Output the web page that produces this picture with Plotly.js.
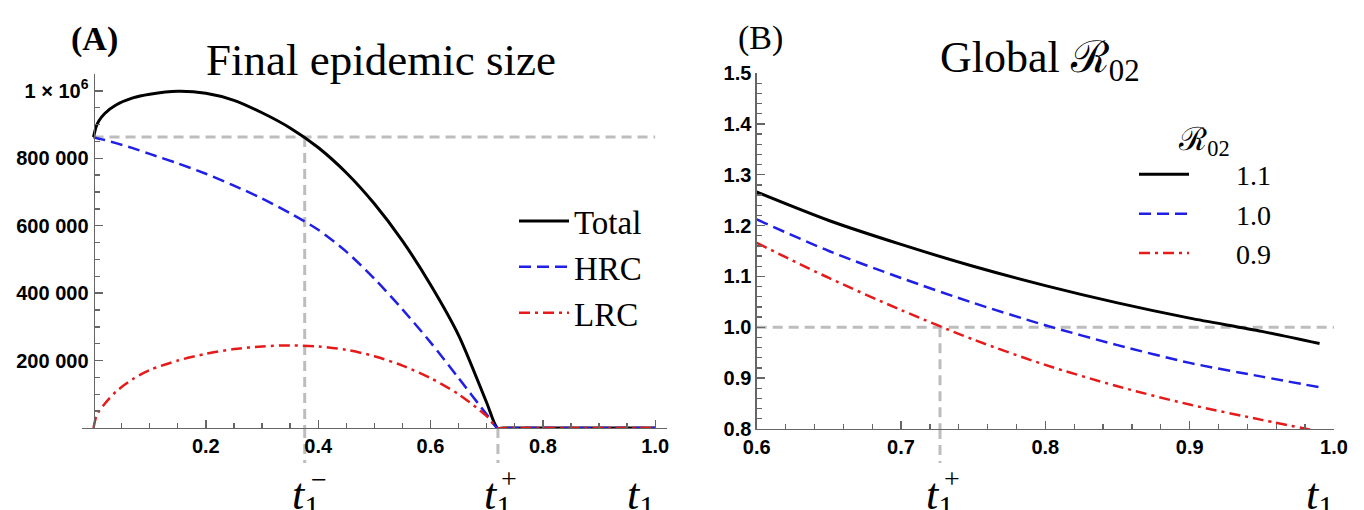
<!DOCTYPE html>
<html><head><meta charset="utf-8">
<script src="https://cdn.plot.ly/plotly-3.0.1.min.js"></script>
<style>html,body{margin:0;padding:0;background:#fff}#c{width:1364px;height:510px}</style>
</head><body><div id="c"></div>
<script>
// ---------- Panel A data: final epidemic size vs t1 ----------
const tA = [0, 0.005, 0.01, 0.02, 0.04, 0.07, 0.10, 0.15, 0.20, 0.25, 0.30, 0.35, 0.40, 0.45, 0.50, 0.55, 0.60, 0.65, 0.70, 0.719, 0.73, 0.8, 0.9, 1.0];
const totalA = [863000, 895000, 912000, 933000, 958000, 979000, 990000, 999000, 993000, 972000, 935000, 890000, 832000, 757000, 665000, 555000, 425000, 275000, 75000, 0, 0, 0, 0, 0];
const hrcA = [863000, 860000, 858000, 854000, 845000, 830000, 813000, 785000, 754000, 719000, 681000, 637000, 588000, 523000, 443000, 352000, 254000, 148000, 40000, 0, 0, 0, 0, 0];
const lrcA = [0, 35000, 50000, 72000, 108000, 145000, 172000, 200000, 220000, 234000, 242000, 245000, 242000, 232000, 213000, 185000, 148000, 100000, 35000, 0, 0, 0, 0, 0];
const seriesA = ["Total", "HRC", "LRC"];
const finalThresh = 863000;
const t1Minus = 0.376;
const t1PlusA = 0.72;
const yTickValsA = [200000, 400000, 600000, 800000, 1000000];
const yTickTextA = ["200 000", "400 000", "600 000", "800 000", "1 × 10<sup>6</sup>"];
const xTickValsA = [0.2, 0.4, 0.6, 0.8, 1.0];
const xTickTextA = ["0.2", "0.4", "0.6", "0.8", "1.0"];

// ---------- Panel B data: global R02 vs t1 ----------
const tB = [0.6, 0.65, 0.7, 0.75, 0.8, 0.85, 0.9, 0.95, 0.99];
const r11 = [1.266, 1.21, 1.163, 1.12, 1.082, 1.048, 1.018, 0.992, 0.968];
const r10 = [1.212, 1.15, 1.097, 1.048, 1.004, 0.965, 0.93, 0.903, 0.882];
const r09 = [1.166, 1.097, 1.034, 0.976, 0.926, 0.884, 0.848, 0.818, 0.795];
const seriesB = ["1.1", "1.0", "0.9"];
const rThresh = 1.0;
const t1PlusB = 0.727;
const xTickValsB = [0.6, 0.7, 0.8, 0.9, 1.0];
const xTickTextB = ["0.6", "0.7", "0.8", "0.9", "1.0"];
const yTickValsB = [0.8, 0.9, 1.0, 1.1, 1.2, 1.3, 1.4, 1.5];
const yTickTextB = ["0.8", "0.9", "1.0", "1.1", "1.2", "1.3", "1.4", "1.5"];

const W = 1364, H = 510;
const px = v => v / W, py = v => 1 - v / H;
const SERIF = "'Liberation Serif', 'DejaVu Serif', serif";
const SANS = "'Liberation Sans', Arial, sans-serif";
const AX = "#666";
const bold = arr => arr.map(s => "<b>" + s + "</b>");

const colors = ["#000000", "#1f1fe6", "#e61a1a"];
const dashes = ["solid", "12px,6px", "11px,5px,3px,5px"];
const widths = [3, 2.5, 2.5];

const traces = [];
[totalA, hrcA, lrcA].forEach((y, i) => traces.push({
  x: tA, y: y, xaxis: "x", yaxis: "y", type: "scatter", mode: "lines", name: seriesA[i],
  line: {color: colors[i], width: widths[i], dash: dashes[i], shape: "spline", smoothing: 0.8}, legend: "legend"
}));
[r11, r10, r09].forEach((y, i) => traces.push({
  x: tB, y: y, xaxis: "x2", yaxis: "y2", type: "scatter", mode: "lines", name: "\u2003\u2002" + seriesB[i],
  line: {color: colors[i], width: widths[i], dash: dashes[i], shape: "spline", smoothing: 0.8}, legend: "legend2"
}));

const domA = {x: [px(82), px(667)], y: [py(428), py(74)]};
const domB = {x: [px(756.7), px(1334)], y: [py(429), py(73)]};
const gray = {color: "#bdbdbd", width: 3, dash: "10px,6px"};

const shapes = [
  {type: "line", xref: "x", yref: "y", x0: 0, x1: 1.0, y0: finalThresh, y1: finalThresh, line: gray, layer: "below"},
  {type: "line", xref: "x", yref: "y", x0: t1Minus, x1: t1Minus, y0: finalThresh, y1: 0, line: gray, layer: "below"},
  {type: "line", xref: "x", yref: "paper", x0: t1Minus, x1: t1Minus, y0: domA.y[0], y1: py(463), line: gray, layer: "below"},
  {type: "line", xref: "x", yref: "paper", x0: t1PlusA, x1: t1PlusA, y0: domA.y[0], y1: py(463), line: gray, layer: "below"},
  {type: "line", xref: "x2", yref: "y2", x0: 0.6, x1: 1.0, y0: rThresh, y1: rThresh, line: gray, layer: "below"},
  {type: "line", xref: "x2", yref: "y2", x0: t1PlusB, x1: t1PlusB, y0: rThresh, y1: 0.8, line: gray, layer: "below"},
  {type: "line", xref: "x2", yref: "paper", x0: t1PlusB, x1: t1PlusB, y0: domB.y[0], y1: py(463), line: gray, layer: "below"}
];

function ann(text, x, y, size, opts) {
  return Object.assign({text: text, xref: "paper", yref: "paper", x: px(x), y: py(y), showarrow: false,
    xanchor: "center", yanchor: "middle", font: {family: SERIF, size: size, color: "#000"}}, opts || {});
}
const annotations = [
  ann("<b>(A)</b>", 95, 39, 34),
  ann("(B)", 761, 38, 34),
  ann("Final epidemic size", 381, 60, 45),
  ann("Global ℛ<sub>02</sub>", 1040, 60, 44),
  // t1 labels panel A
  ann("<i>t</i><sub>1</sub>", 290, 497, 44, {xanchor: "left"}),
  ann("−", 319, 479, 28),
  ann("<i>t</i><sub>1</sub>", 482, 497, 44, {xanchor: "left"}),
  ann("+", 509, 478, 28),
  ann("<i>t</i><sub>1</sub>", 625, 497, 44, {xanchor: "left"}),
  // panel B
  ann("<i>t</i><sub>1</sub>", 924, 497, 44, {xanchor: "left"}),
  ann("+", 952, 478, 28),
  ann("<i>t</i><sub>1</sub>", 1304, 497, 44, {xanchor: "left"})
];

const tickFont = {family: SANS, size: 20, color: "#000"};
const common = {showgrid: false, zeroline: false, showline: true, linecolor: AX, linewidth: 1.3,
  ticks: "inside", ticklen: 8, tickcolor: AX, tickwidth: 1.3, tickfont: tickFont, tickmode: "array"};
const layout = {
  width: W, height: H, margin: {l: 0, r: 0, t: 0, b: 0},
  paper_bgcolor: "#fff", plot_bgcolor: "rgba(0,0,0,0)",
  showlegend: true,
  xaxis: Object.assign({}, common, {domain: domA.x, range: [-0.0205, 1.021], anchor: "y",
    tickvals: xTickValsA, ticktext: bold(xTickTextA),
    minor: {tickmode: "linear", tick0: 0, dtick: 0.05, ticks: "inside", ticklen: 5, tickcolor: AX, showgrid: false}}),
  yaxis: Object.assign({}, common, {domain: domA.y, range: [0, 1050000], anchor: "free", position: px(93.5),
    tickvals: yTickValsA, ticktext: bold(yTickTextA), ticklabelstandoff: 1,
    minor: {tickmode: "linear", tick0: 0, dtick: 50000, ticks: "inside", ticklen: 5, tickcolor: AX, showgrid: false}}),
  xaxis2: Object.assign({}, common, {domain: domB.x, range: [0.6, 1.0], anchor: "y2",
    tickvals: xTickValsB, ticktext: bold(xTickTextB),
    minor: {tickmode: "linear", tick0: 0.6, dtick: 0.02, ticks: "inside", ticklen: 5, tickcolor: AX, showgrid: false}}),
  yaxis2: Object.assign({}, common, {domain: domB.y, range: [0.8, 1.5], anchor: "x2",
    tickvals: yTickValsB, ticktext: bold(yTickTextB), ticklabelstandoff: 0,
    minor: {tickmode: "linear", tick0: 0.8, dtick: 0.02, ticks: "inside", ticklen: 5, tickcolor: AX, showgrid: false}}),
  legend: {x: px(514), y: py(193), xanchor: "left", yanchor: "top", bgcolor: "rgba(0,0,0,0)",
    font: {family: SERIF, size: 33, color: "#000"}, itemwidth: 50, tracegroupgap: 0},
  legend2: {x: px(1134), y: py(108), xanchor: "left", yanchor: "top", bgcolor: "rgba(0,0,0,0)",
    font: {family: SERIF, size: 28, color: "#000"}, itemwidth: 50,
    title: {text: "ℛ<sub>02</sub>", side: "top center", font: {family: SERIF, size: 32, color: "#000"}}},
  shapes: shapes,
  annotations: annotations
};
Plotly.newPlot("c", traces, layout, {staticPlot: true, displayModeBar: false});
</script></body></html>
